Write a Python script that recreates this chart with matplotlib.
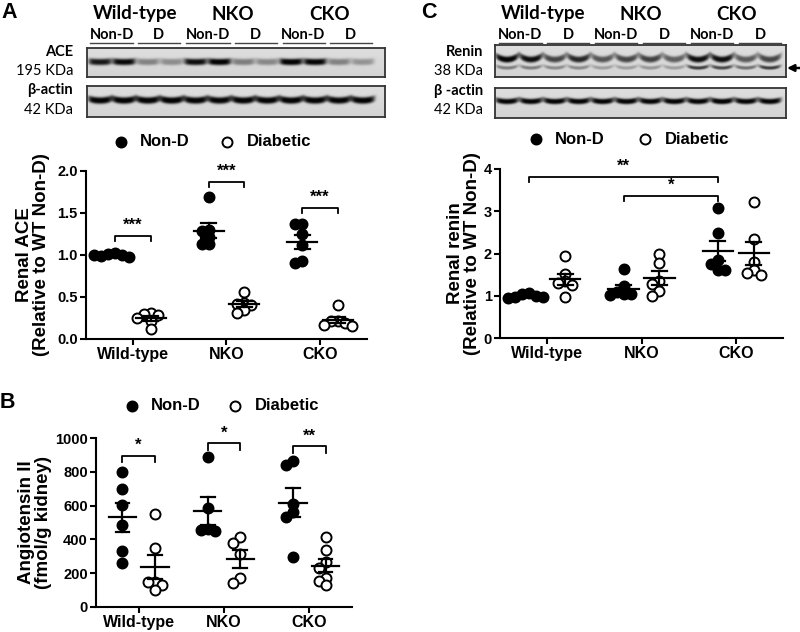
import numpy as np
import matplotlib.pyplot as plt

plt.rcParams['font.family'] = ['Liberation Sans', 'DejaVu Sans']
plt.rcParams['font.weight'] = 'bold'

groups = ['Wild-type', 'NKO', 'CKO']

# Panel A - renal ACE (relative to WT Non-D)
ace_nond = [[1.02, 1.01, 1.00, 0.99, 0.98, 1.00],
            [1.69, 1.30, 1.28, 1.22, 1.13, 1.13],
            [1.37, 1.37, 1.25, 1.12, 0.93, 0.90]]
ace_diab = [[0.31, 0.30, 0.28, 0.25, 0.22, 0.12],
            [0.56, 0.43, 0.42, 0.40, 0.35, 0.31],
            [0.40, 0.22, 0.21, 0.19, 0.17, 0.15]]
ace_sig = [('***', 0, 1.23), ('***', 1, 1.87), ('***', 2, 1.56)]

# Panel B - angiotensin II (fmol/g kidney)
ang_nond = [[800, 697, 604, 485, 332, 261],
            [890, 584, 460, 455, 450],
            [865, 841, 609, 560, 534, 297]]
ang_diab = [[550, 350, 150, 145, 130, 100],
            [415, 380, 313, 174, 142],
            [413, 340, 267, 228, 174, 154, 129]]
ang_sig = [('*', 0, 896), ('*', 1, 970), ('**', 2, 950)]

# Panel C - renal renin (relative to WT Non-D)
renin_nond = [[1.07, 1.03, 1.00, 0.98, 0.96, 0.95],
              [1.63, 1.22, 1.08, 1.03, 1.03, 1.02],
              [3.08, 2.49, 1.85, 1.75, 1.60, 1.60]]
renin_diab = [[1.95, 1.52, 1.35, 1.30, 1.25, 0.97],
              [2.00, 1.78, 1.35, 1.28, 1.12, 1.00],
              [3.21, 2.35, 1.80, 1.60, 1.55, 1.50]]

# western blot band intensities (12 lanes)
ace_band = [0.76, 0.82, 0.34, 0.30, 0.80, 0.86, 0.36, 0.32, 0.86, 0.84, 0.34, 0.27]
actin_a = [0.86, 0.87, 0.87, 0.88, 0.86, 0.85, 0.87, 0.86, 0.87, 0.86, 0.85, 0.86]
renin_up = [0.85, 0.80, 0.58, 0.70, 0.52, 0.58, 0.60, 0.48, 0.80, 0.80, 0.50, 0.58]
renin_low = [0.35, 0.35, 0.30, 0.30, 0.22, 0.22, 0.25, 0.22, 0.60, 0.55, 0.40, 0.60]
actin_c = [0.84, 0.84, 0.85, 0.85, 0.84, 0.85, 0.84, 0.85, 0.84, 0.87, 0.84, 0.84]

W, H = 800, 632
fig = plt.figure(figsize=(8, 6.32), dpi=100)


def px(l, t, r, b):
    return [l / W, 1 - b / H, (r - l) / W, (b - t) / H]


def swarm(ax, x0, vals, d=7.0):
    # spread overlapping points sideways (column scatter)
    tr = ax.transData
    placed = []
    xs = []
    for v in vals:
        cx, cy = tr.transform((x0, v))
        for k in [0, -1, 1, -2, 2, -3, 3]:
            px_ = cx + k * d
            if all((px_ - a) ** 2 + (cy - b) ** 2 >= (d * 0.95) ** 2 for a, b in placed):
                break
        placed.append((px_, cy))
        xs.append(tr.inverted().transform((px_, cy))[0])
    return xs


def scatter_panel(rect, nond, diab, ylim, yticks, yfmt, ylabel, lab_x):
    ax = fig.add_axes(px(*rect))
    ax.set_xlim(-0.5, 2.5)
    ax.set_ylim(*ylim)
    off = 0.19
    for i in range(3):
        for vals, dx, face in [(nond[i], -off, 'black'), (diab[i], off, 'white')]:
            xs = swarm(ax, i + dx, vals)
            ax.plot(xs, vals, 'o', ms=7.2, mfc=face, mec='black', mew=1.4,
                    ls='none', clip_on=False, zorder=3)
            m = np.mean(vals)
            se = np.std(vals, ddof=1) / np.sqrt(len(vals))
            ax.plot([i + dx - 0.16, i + dx + 0.16], [m, m], color='black', lw=1.6, zorder=4)
            ax.plot([i + dx, i + dx], [m - se, m + se], color='black', lw=1.6, zorder=4)
            for e in (m - se, m + se):
                ax.plot([i + dx - 0.08, i + dx + 0.08], [e, e], color='black', lw=1.6, zorder=4)
    for s in ['top', 'right']:
        ax.spines[s].set_visible(False)
    for s in ['left', 'bottom']:
        ax.spines[s].set_linewidth(1.5)
    ax.set_xticks(range(3))
    ax.set_xticklabels(groups, fontsize=11.5, fontweight='bold')
    ax.set_yticks(yticks)
    ax.set_yticklabels([yfmt.format(t) for t in yticks], fontsize=10.5, fontweight='bold')
    ax.tick_params(direction='out', length=4, width=1.5, pad=2)
    ax.set_ylabel(ylabel, fontsize=13.5, fontweight='bold', linespacing=1.0)
    ax.yaxis.set_label_coords(lab_x, 0.5)
    return ax


def bracket(ax, x1, x2, y, drop, text):
    ax.plot([x1, x1, x2, x2], [y - drop, y, y, y - drop], color='black', lw=1.3, clip_on=False)
    ax.annotate(text, ((x1 + x2) / 2, y), xytext=(0, 2), textcoords='offset points',
                ha='center', va='bottom', fontsize=12, fontweight='bold')


# panel A
axA = scatter_panel((86, 171, 367, 339), ace_nond, ace_diab, (0, 2.0),
                    [0, 0.5, 1.0, 1.5, 2.0], '{:.1f}',
                    'Renal ACE\n(Relative to WT Non-D)', -0.128)
for txt, g, y in ace_sig:
    bracket(axA, g - 0.19, g + 0.19, y, 0.06, txt)

# panel B
axB = scatter_panel((96, 438, 352, 607), ang_nond, ang_diab, (0, 1000),
                    [0, 200, 400, 600, 800, 1000], '{:d}',
                    'Angiotensin II\n(fmol/g kidney)', -0.172)
for txt, g, y in ang_sig:
    bracket(axB, g - 0.19, g + 0.19, y, 40, txt)

# panel C
axC = scatter_panel((500, 169, 783, 338), renin_nond, renin_diab, (0, 4),
                    [0, 1, 2, 3, 4], '{:d}',
                    'Renal renin\n(Relative to WT Non-D)', -0.067)
bracket(axC, -0.19, 2 - 0.19, 3.81, 0.12, '**')
bracket(axC, 1 - 0.19, 2 - 0.19, 3.37, 0.12, '*')


# western blots
def draw_blot(rect, first, step, bands):
    l, t, r, b = rect
    ax = fig.add_axes(px(*rect))
    w, h = r - l, b - t
    xx, yy = np.meshgrid(np.linspace(0, w, w * 4), np.linspace(0, h, h * 4))
    img = np.full(xx.shape, 0.87)
    img -= 0.04 * (yy / h)
    for inten, yc, sy, hw, sag in bands:
        for i, a in enumerate(inten):
            dx = (xx - (first - l + i * step)) / hw
            yc_eff = yc - sag * dx ** 2
            img -= a * np.exp(-dx ** 6) * np.exp(-np.abs((yy - yc_eff) / sy) ** 3)
    ax.imshow(np.clip(img, 0.02, 1), cmap='gray', vmin=0, vmax=1, extent=(0, w, h, 0),
              aspect='auto', interpolation='bilinear')
    ax.set_xticks([])
    ax.set_yticks([])
    for s in ax.spines.values():
        s.set_linewidth(1.3)
        s.set_color('#333333')
    return ax


draw_blot((87, 48, 385, 77), 100, 23.9, [(ace_band, 14, 3.3, 11.5, 0.8)])
draw_blot((87, 86, 385, 117), 100, 23.9, [(actin_a, 14.5, 3.4, 12, 2.0)])
draw_blot((495, 45, 786, 77), 507, 23.9, [(renin_up, 14.5, 3.2, 11.5, 4), (renin_low, 23, 1.8, 11, 2)])
draw_blot((495, 88, 786, 118), 507, 23.9, [(actin_c, 13.5, 2.8, 11.5, 1.8)])

# overlay for labels in pixel coordinates
ov = fig.add_axes([0, 0, 1, 1], zorder=10)
ov.set_xlim(0, W)
ov.set_ylim(H, 0)
ov.axis('off')
ov.patch.set_visible(False)

bf = ['Lato', 'DejaVu Sans']
for x, s in [(135, 'Wild-type'), (233, 'NKO'), (330, 'CKO'),
             (543, 'Wild-type'), (641, 'NKO'), (737, 'CKO')]:
    ov.text(x, 14, s, ha='center', va='center', fontsize=13.5, fontweight='bold', family=bf)
subs = ['Non-D', 'D'] * 3
for centers, segs in [([112, 158, 208, 255, 303, 350],
                       [(90, 133), (138, 180), (186, 230), (235, 277), (283, 325), (330, 372)]),
                      ([520, 568, 616, 664, 712, 760],
                       [(499, 542), (547, 589), (595, 637), (643, 685), (691, 733), (739, 781)])]:
    for c, (a, b), s in zip(centers, segs, subs):
        ov.text(c, 35, s, ha='center', va='center', fontsize=10.5, fontweight='bold', family=bf)
        ov.plot([a, b], [43, 43], color='#444444', lw=1.0)

for x, rows in [(73, [(52, 'ACE', 'bold'), (71, '195 KDa', 'normal'),
                      (90, 'β-actin', 'bold'), (110, '42 KDa', 'normal')]),
                (483, [(52, 'Renin', 'bold'), (71, '38 KDa', 'normal'),
                       (91, 'β -actin', 'bold'), (110, '42 KDa', 'normal')])]:
    for y, s, wt in rows:
        ov.text(x, y, s, ha='right', va='center', fontsize=10.5, fontweight=wt, family=bf)

ov.annotate('', xy=(787, 68), xytext=(800, 68),
            arrowprops=dict(arrowstyle='-|>', color='black', lw=1.8, mutation_scale=10,
                            shrinkA=0, shrinkB=0))

# legends
for y, xf, xo in [(142, 121, 227), (406, 132, 235), (139, 536, 645)]:
    ov.plot(xf, y, 'o', ms=7.2, mfc='black', mec='black', mew=1.4)
    ov.plot(xo, y, 'o', ms=7.2, mfc='white', mec='black', mew=1.4)
    ov.text(xf + 19, y, 'Non-D', ha='left', va='center', fontsize=12, fontweight='bold')
    ov.text(xo + 20, y, 'Diabetic', ha='left', va='center', fontsize=12, fontweight='bold')

# panel letters
for x, y, s in [(1, 12, 'A'), (0, 402, 'B'), (421, 12, 'C')]:
    ov.text(x, y, s, ha='left', va='center', fontsize=15.5, fontweight='bold')

fig.savefig('out.png', dpi=100, facecolor='white')
